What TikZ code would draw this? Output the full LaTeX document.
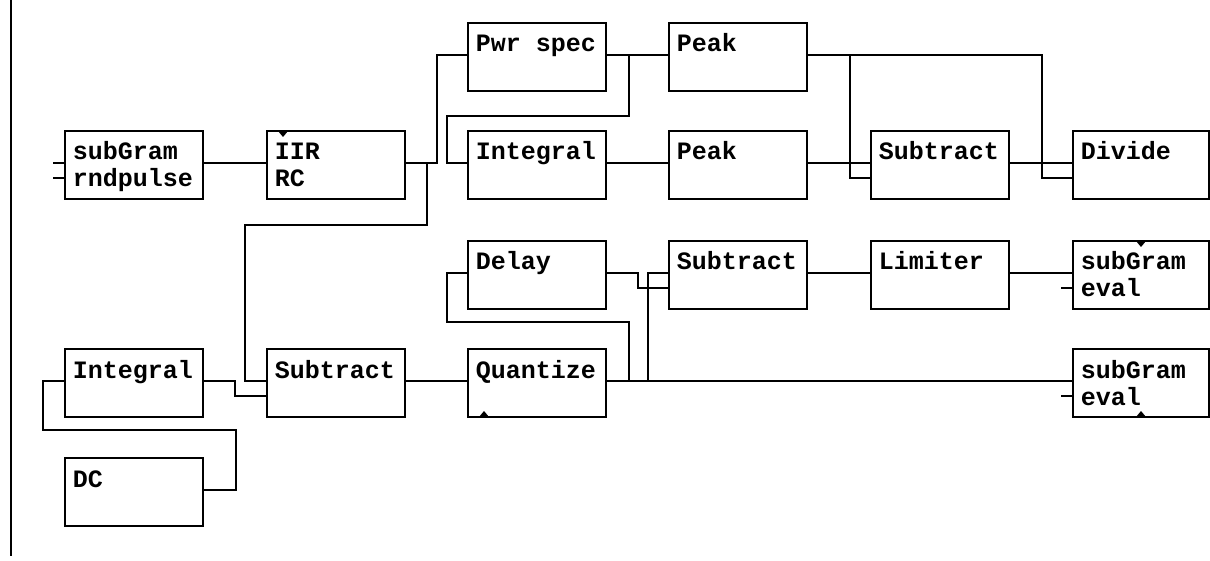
\documentclass[tikz,border=0pt]{standalone}
\usepackage{fontspec}
\newfontfamily\blkfont{Liberation Mono}
\usetikzlibrary{calc}
\begin{document}
\begin{tikzpicture}[x=1pt,y=-1pt,line width=1.6pt,
  blk/.style={draw,rectangle,anchor=north west,minimum width=138pt,
    minimum height=68pt,inner sep=0pt,outer sep=0pt},
  edge/.style={blk,minimum width=136pt},
  lbl/.style={anchor=base west,xshift=7pt,yshift=-29pt,inner sep=0pt,
    font=\blkfont\bfseries\fontsize{25}{27}\selectfont},
  tx/.style={label={[lbl]north west:#1}},
  txx/.style={label={[lbl,yshift=-27pt]north west:#1}},
  wire/.style={draw,line width=1.6pt}]
\useasboundingbox (0,0) rectangle (1210,561);

% frame line on the left
\draw (11,0) -- (11,556);

% blocks
\node[blk,tx=subGram,txx=rndpulse] (sgr) at (65,131) {};
\node[blk,tx=IIR,txx=RC] (iir) at (267,131) {};
\node[blk,tx=Pwr spec] (pwr) at (468,23) {};
\node[blk,tx=Peak] (pk1) at (669,23) {};
\node[blk,tx=Integral] (int2) at (468,131) {};
\node[blk,tx=Peak] (pk2) at (669,131) {};
\node[blk,tx=Subtract] (sub1) at (871,131) {};
\node[edge,tx=Divide] (div) at (1073,131) {};
\node[blk,tx=Delay] (dly) at (468,241) {};
\node[blk,tx=Subtract] (sub2) at (669,241) {};
\node[blk,tx=Limiter] (lim) at (871,241) {};
\node[edge,tx=subGram,txx=eval] (ev1) at (1073,241) {};
\node[blk,tx=Integral] (int1) at (65,349) {};
\node[blk,tx=Subtract] (sub3) at (267,349) {};
\node[blk,tx=Quantize] (qnt) at (468,349) {};
\node[edge,tx=subGram,txx=eval] (ev2) at (1073,349) {};
\node[blk,tx=DC] (dc) at (65,458) {};

% ports: two inputs on the left, one output on the right
\foreach \n in {sgr,iir,pwr,pk1,int2,pk2,sub1,div,dly,sub2,lim,ev1,int1,sub3,qnt,ev2,dc}{
  \coordinate (\n-i1) at ([yshift=-32pt]\n.north west);
  \coordinate (\n-i2) at ([yshift=-47pt]\n.north west);
  \coordinate (\n-o) at ([yshift=-32pt]\n.north east);
}

% port markers
\fill (iir.north west) ++(11,0) -- ++(10,0) -- ++(-5,6) -- cycle;
\fill (ev1.north west) ++(63,0) -- ++(10,0) -- ++(-5,6) -- cycle;
\fill (qnt.south west) ++(11,0) -- ++(10,0) -- ++(-5,-6) -- cycle;
\fill (ev2.south west) ++(63,0) -- ++(10,0) -- ++(-5,-6) -- cycle;

% open input stubs
\coordinate (sgr-s1) at ([xshift=-12pt]sgr-i1);
\coordinate (sgr-s2) at ([xshift=-12pt]sgr-i2);
\coordinate (ev1-s2) at ([xshift=-12pt]ev1-i2);
\coordinate (ev2-s2) at ([xshift=-12pt]ev2-i2);
\draw (sgr-i1) -- (sgr-s1);
\draw (sgr-i2) -- (sgr-s2);
\draw (ev1-i2) -- (ev1-s2);
\draw (ev2-i2) -- (ev2-s2);

% connectors
\draw (sgr-o) -- (iir-i1);
\draw (iir-o) -- ++(32,0) |- (pwr-i1);
\draw (iir-o) -- ++(22,0) -- ++(0,62) -| ([xshift=-22pt]sub3-i1) -- (sub3-i1);
\draw (int1-o) -- ++(32,0) |- (sub3-i2);
\draw (dc-o) -- ++(33,0) -- ++(0,-60) -| ([xshift=-22pt]int1-i1) -- (int1-i1);
\draw (sub3-o) -- (qnt-i1);
\draw (pwr-o) -- (pk1-i1);
\draw (pwr-o) -- ++(23,0) -- ++(0,61) -| ([xshift=-21pt]int2-i1) -- (int2-i1);
\draw (int2-o) -- (pk2-i1);
\draw (pk1-o) -| ([xshift=-31pt]div-i2) -- (div-i2);
\draw (pk1-o) -| ([xshift=-21pt]sub1-i2) -- (sub1-i2);
\draw (pk2-o) -- (sub1-i1);
\draw (sub1-o) -- (div-i1);
\draw (qnt-o) -- (ev2-i1);
\draw (qnt-o) -- ++(23,0) -- ++(0,-59) -| ([xshift=-21pt]dly-i1) -- (dly-i1);
\draw (qnt-o) -| ([xshift=-21pt]sub2-i1) -- (sub2-i1);
\draw (dly-o) -- ++(32,0) |- (sub2-i2);
\draw (sub2-o) -- (lim-i1);
\draw (lim-o) -- (ev1-i1);
\end{tikzpicture}
\end{document}
